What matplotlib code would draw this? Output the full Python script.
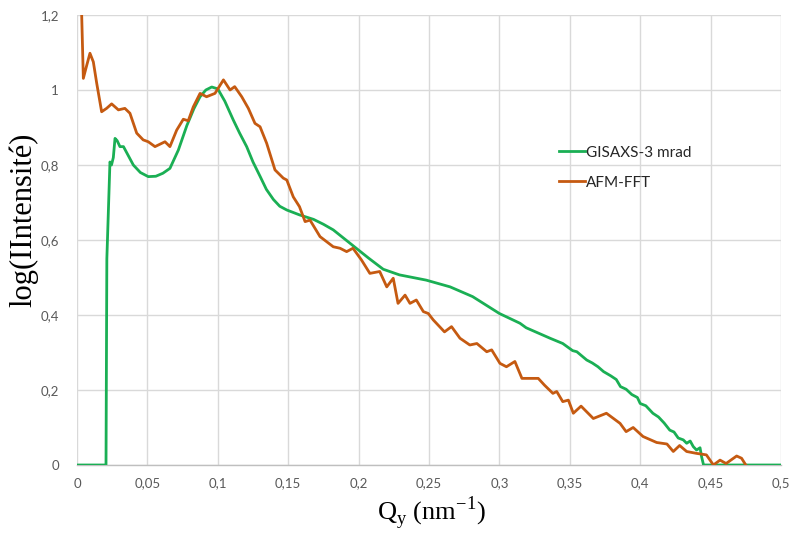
import matplotlib
matplotlib.use("Agg")
import matplotlib.pyplot as plt
from matplotlib.ticker import FixedLocator

# GISAXS-3 mrad (green)
gis_q = [0.0, 0.0206, 0.0212, 0.0234, 0.0245, 0.0258, 0.027, 0.0285, 0.0305, 0.033, 0.036,
         0.040, 0.045, 0.0506, 0.056, 0.061, 0.066, 0.072, 0.078, 0.083, 0.0874, 0.0915,
         0.0957, 0.100, 0.105, 0.111, 0.1155, 0.1205, 0.125, 0.130, 0.1345, 0.1395, 0.144,
         0.149, 0.158, 0.168, 0.175, 0.182, 0.189, 0.196, 0.207, 0.2175, 0.229,
         0.248, 0.265, 0.281, 0.300, 0.3146, 0.319, 0.336, 0.345, 0.352, 0.355, 0.362,
         0.366, 0.370, 0.374, 0.379, 0.383, 0.386, 0.390, 0.394, 0.398, 0.400, 0.404,
         0.409, 0.413, 0.417, 0.421, 0.424, 0.427, 0.4306, 0.433, 0.4355, 0.4377, 0.440,
         0.4425, 0.4436, 0.445, 0.47, 0.5]
gis_v = [0.0, 0.0, 0.55, 0.808, 0.80, 0.82, 0.871, 0.865, 0.849, 0.849, 0.828,
         0.800, 0.780, 0.769, 0.770, 0.778, 0.791, 0.840, 0.905, 0.950, 0.982, 1.000,
         1.008, 1.003, 0.970, 0.920, 0.885, 0.849, 0.808, 0.770, 0.735, 0.708, 0.690,
         0.680, 0.667, 0.655, 0.642, 0.627, 0.606, 0.585, 0.552, 0.522, 0.507,
         0.493, 0.475, 0.449, 0.404, 0.378, 0.366, 0.338, 0.324, 0.305, 0.302, 0.280,
         0.272, 0.262, 0.249, 0.238, 0.228, 0.209, 0.202, 0.188, 0.180, 0.164, 0.158,
         0.138, 0.128, 0.112, 0.093, 0.088, 0.072, 0.067, 0.058, 0.064, 0.049, 0.040,
         0.046, 0.022, 0.0, 0.0, 0.0]

# AFM-FFT (orange)
afm_q = [0.0015, 0.0033, 0.0045, 0.0065, 0.0092, 0.0116, 0.014, 0.0175, 0.021, 0.0246,
         0.0294, 0.034, 0.0376, 0.0424, 0.047, 0.0506, 0.0554, 0.0625, 0.066, 0.0708,
         0.0755, 0.079, 0.0826, 0.0874, 0.092, 0.098, 0.104, 0.1087, 0.112, 0.117,
         0.1217, 0.1264, 0.130, 0.1347, 0.1406, 0.1465, 0.149, 0.1536, 0.158, 0.162,
         0.1655, 0.1726, 0.182, 0.1868, 0.1915, 0.196, 0.202, 0.208, 0.215, 0.220,
         0.2246, 0.228, 0.233, 0.2365, 0.241, 0.246, 0.2495, 0.253, 0.261, 0.266,
         0.272, 0.279, 0.284, 0.291, 0.2945, 0.3004, 0.305, 0.311, 0.316, 0.319,
         0.3276, 0.332, 0.338, 0.3407, 0.345, 0.349, 0.3525, 0.358, 0.3667, 0.376,
         0.3857, 0.390, 0.395, 0.402, 0.4117, 0.419, 0.4235, 0.428, 0.433, 0.440,
         0.447, 0.452, 0.4567, 0.461, 0.4685, 0.472, 0.475]
afm_v = [1.25, 1.204, 1.031, 1.06, 1.098, 1.075, 1.018, 0.942, 0.951, 0.963,
         0.947, 0.951, 0.938, 0.885, 0.867, 0.862, 0.849, 0.862, 0.849, 0.893,
         0.922, 0.918, 0.955, 0.991, 0.982, 0.991, 1.027, 1.0, 1.009, 0.982,
         0.951, 0.911, 0.902, 0.858, 0.787, 0.765, 0.760, 0.715, 0.689, 0.649,
         0.653, 0.609, 0.582, 0.578, 0.569, 0.578, 0.547, 0.511, 0.516, 0.475,
         0.498, 0.431, 0.453, 0.431, 0.440, 0.409, 0.404, 0.387, 0.355, 0.369,
         0.338, 0.320, 0.324, 0.302, 0.307, 0.271, 0.262, 0.276, 0.231, 0.231,
         0.231, 0.213, 0.191, 0.196, 0.169, 0.173, 0.138, 0.157, 0.124, 0.138,
         0.111, 0.089, 0.100, 0.076, 0.060, 0.056, 0.036, 0.052, 0.036, 0.031,
         0.027, 0.0, 0.013, 0.004, 0.024, 0.018, 0.0]

x_ticks = [0, 0.05, 0.1, 0.15, 0.2, 0.25, 0.3, 0.35, 0.4, 0.45, 0.5]
x_labels = ["0", "0,05", "0,1", "0,15", "0,2", "0,25", "0,3", "0,35", "0,4", "0,45", "0,5"]
y_ticks = [0, 0.2, 0.4, 0.6, 0.8, 1.0, 1.2]
y_labels = ["0", "0,2", "0,4", "0,6", "0,8", "1", "1,2"]

W, H = 792, 533
fig = plt.figure(figsize=(W / 100, H / 100), dpi=100)
ax = fig.add_axes([77 / W, (H - 465) / H, (781 - 77) / W, (465 - 15) / H])

green = "#1AAF54"
orange = "#C55A11"
ax.plot(gis_q, gis_v, color=green, lw=2.0, label="GISAXS-3 mrad", solid_joinstyle="round", zorder=3)
ax.plot(afm_q, afm_v, color=orange, lw=2.0, label="AFM-FFT", solid_joinstyle="round", zorder=4)

ax.set_xlim(0, 0.5)
ax.set_ylim(0, 1.2)
ax.xaxis.set_major_locator(FixedLocator(x_ticks))
ax.yaxis.set_major_locator(FixedLocator(y_ticks))
ax.set_xticklabels(x_labels)
ax.set_yticklabels(y_labels)
ax.grid(True, color="#D9D9D9", lw=1.0)
ax.set_axisbelow(True)
for s in ["top", "right", "left"]:
    ax.spines[s].set_visible(False)
ax.spines["bottom"].set_color("#BFBFBF")
ax.spines["bottom"].set_linewidth(1.0)
ax.tick_params(length=0, labelsize=9.5, labelcolor="#595959")
ax.tick_params(axis="x", pad=9)
ax.tick_params(axis="y", pad=13)
for lab in ax.get_xticklabels() + ax.get_yticklabels():
    lab.set_family("Lato")

fig.text(431 / W, 1 - 513 / H, r"Q$_\mathregular{y}$ (nm$^\mathregular{-1}$)",
         family="Liberation Serif", fontsize=19, ha="center", va="center")
fig.text(24 / W, 1 - 220 / H, "log(IIntensité)", family="Liberation Serif",
         fontsize=22, rotation=90, ha="center", va="center")

leg = ax.legend(loc="upper left", bbox_to_anchor=((545 - 77) / (781 - 77), 1 - (132 - 15) / 450),
                frameon=False, handlelength=1.7, handletextpad=0.1, labelspacing=1.05,
                prop={"family": "Lato", "size": 11})
for t in leg.get_texts():
    t.set_color("#262626")

fig.savefig("out.png", dpi=100)
